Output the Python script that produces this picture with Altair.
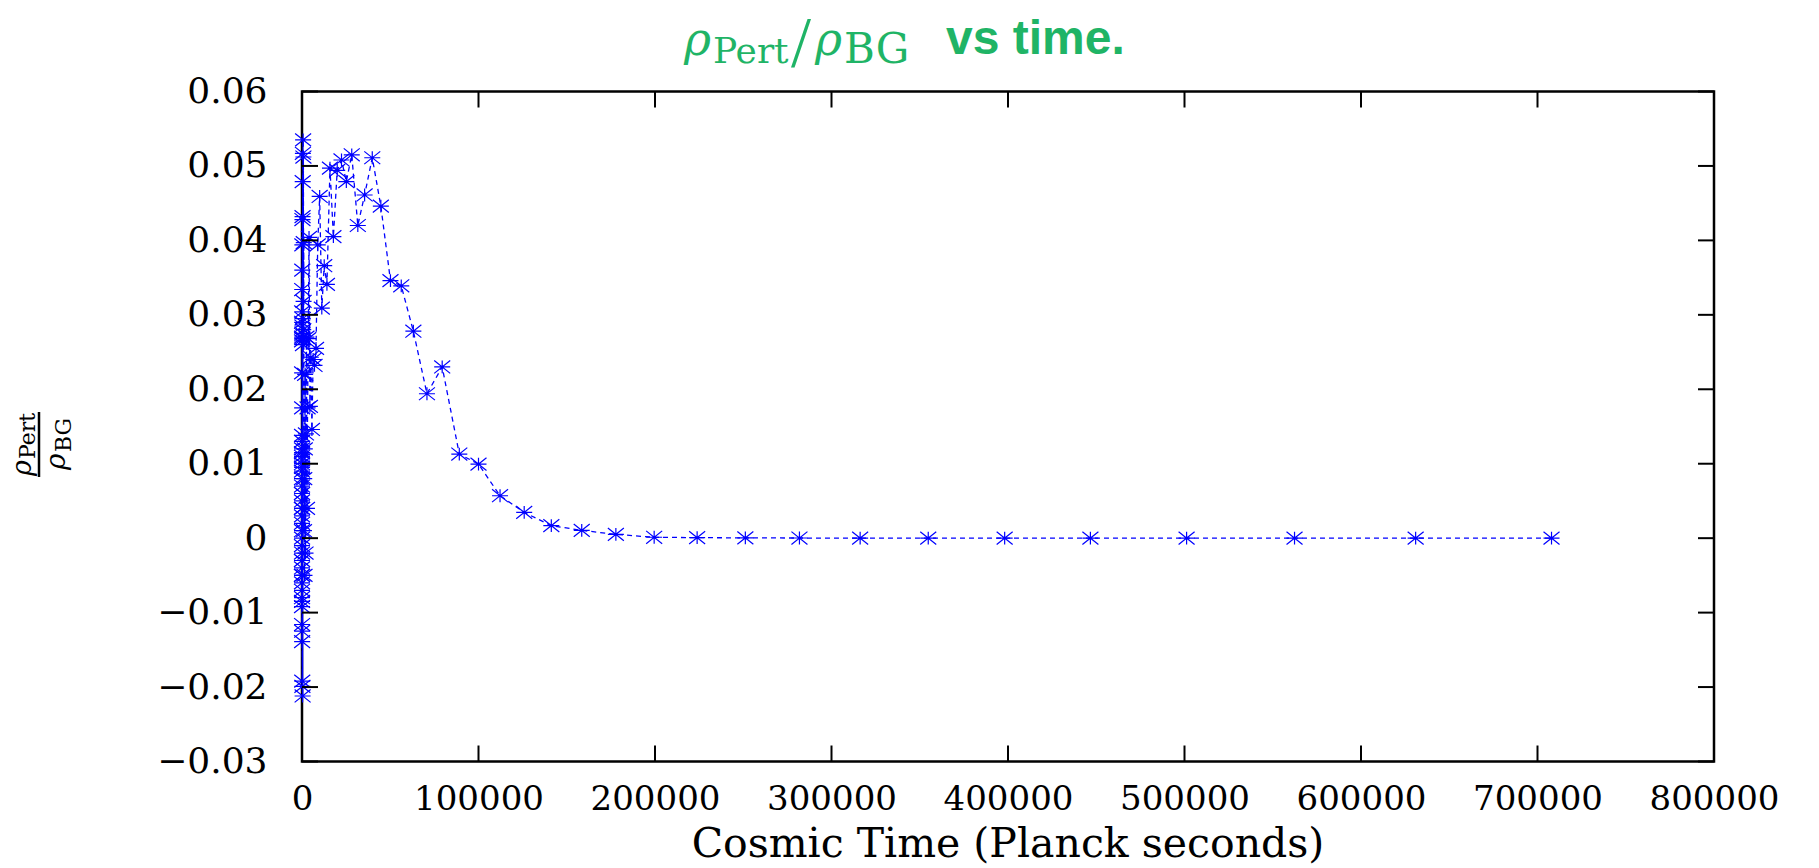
import altair as alt
import pandas as pd

# ---------------- data ----------------
times = [
    1, 1.122, 1.259, 1.413, 1.585, 1.778, 1.995, 2.239, 2.512, 2.818,
    3.162, 3.548, 3.981, 4.467, 5.012, 5.623, 6.310, 7.079, 7.943, 8.913,
    10, 11.22, 12.59, 14.13, 15.85, 17.78, 19.95, 22.39, 25.12, 28.18,
    31.62, 35.48, 39.81, 44.67, 50.12, 56.23, 63.10, 70.79, 79.43, 89.13,
    100, 112.2, 125.9, 141.3, 158.5, 177.8, 199.5, 223.9, 251.2, 281.8,
    316.2, 354.8, 398.1, 446.7, 501.2, 562.3, 631.0, 707.9, 794.3, 891.3,
    1000, 1122, 1259, 1413, 1585, 1778, 1995, 2239, 2512, 2818,
    3162, 3548, 3981, 4467, 5012, 5623, 6310, 7079, 7943, 8913,
    10000, 11220, 12589, 14125, 15849, 17783, 19953, 22387, 25119, 28184,
    31623, 35481, 39811, 44668, 50119, 56234, 63096, 70795, 79433, 89125,
    100000, 112202, 125893, 141254, 158489, 177828, 199526, 223872, 251189, 281838,
    316228, 354813, 398107, 446684, 501187, 562341, 630957, 707946,
]
ratio = [
    0.002, -0.001, 0.004, -0.003, 0.006, -0.002, 0.008, -0.004, 0.005, 0.010,
    -0.005, 0.007, 0.001, 0.011, -0.006, 0.003, 0.009, -0.007, 0.012, -0.003,
    0.004, 0.013, -0.008, 0.006, 0.0115, -0.005, 0.0095, -0.0085, 0.0105, 0.000,
    -0.0092, 0.0138, 0.0270, -0.0116, 0.0265, 0.0222, -0.0139, 0.0290, 0.0175, 0.0304,
    -0.0125, 0.0334, 0.0268, -0.0192, 0.0360, 0.0285, 0.0394, -0.0199, 0.0428, 0.0275,
    0.0432, -0.0212, 0.0479, 0.0295, 0.0517, 0.0260, 0.0535, 0.0280, 0.0512, 0.0318,
    0.0397,
    0.0010, 0.0080, -0.0050, 0.0120, 0.0220, -0.0020, 0.0140, 0.0270, 0.0040, 0.0175,
    0.0268, 0.0404, 0.0177, 0.0243, 0.0146, 0.0240, 0.0232, 0.0255,
    0.0394, 0.0459, 0.0309, 0.0366, 0.0341, 0.0497, 0.0405, 0.0494, 0.0508, 0.0479,
    0.0515, 0.0420, 0.0461, 0.0511, 0.0446, 0.0346, 0.0339, 0.0278, 0.0194, 0.0230,
    0.0113, 0.00995, 0.0057, 0.00346, 0.00168, 0.00105, 0.00051,
    0.00012, 0.00007, 0.00004, 0.00002, 0.00001, 0.0, 0.0, 0.0, 0.0, 0.0, 0.0, 0.0,
]
x_ticks = [0, 100000, 200000, 300000, 400000, 500000, 600000, 700000, 800000]
y_ticks = [-0.03, -0.02, -0.01, 0.0, 0.01, 0.02, 0.03, 0.04, 0.05, 0.06]

df = pd.DataFrame({"t": times, "v": ratio})
xt_df = pd.DataFrame({"xt": x_ticks})
yt_df = pd.DataFrame({"yt": y_ticks})
one = pd.DataFrame({"a": [0]})

W, H = 1412, 670
LEFT, TOP = 302, 91.5
GREEN = "#1fb466"
SERIF = "DejaVu Serif"

xs = alt.Scale(domain=[0, 800000], nice=False, zero=False)
ys = alt.Scale(domain=[-0.03, 0.06], nice=False, zero=False)

STAR = "M-1,0L1,0M0,-0.8L0,0.8M-1,-0.8L1,0.8M-1,0.8L1,-0.8"

x_axis = alt.Axis(values=x_ticks, format="d", labelFont=SERIF, labelFontSize=34,
                  labelColor="black", labelPadding=21, labelFlush=False,
                  domain=False, ticks=False, grid=False, title=None)
y_axis = alt.Axis(values=y_ticks,
                  labelExpr="datum.value == 0 ? '0' : format(datum.value, '.2f')",
                  labelFont=SERIF, labelFontSize=36, labelColor="black",
                  labelPadding=35, labelFlush=False,
                  domain=False, ticks=False, grid=False, title=None)

line = alt.Chart(df).mark_line(color="#0000ff", strokeDash=[5, 4], strokeWidth=1.3).encode(
    x=alt.X("t:Q", scale=xs, axis=x_axis),
    y=alt.Y("v:Q", scale=ys, axis=y_axis),
)
pts = alt.Chart(df).mark_point(shape=STAR, size=256, strokeWidth=1.2, color="#0000ff",
                               filled=False, opacity=1).encode(
    x=alt.X("t:Q", scale=xs),
    y=alt.Y("v:Q", scale=ys),
)

TL = 16
tick_style = dict(color="black", strokeWidth=2)
left_ticks = alt.Chart(yt_df).mark_rule(**tick_style).encode(
    y=alt.Y("yt:Q", scale=ys), x=alt.value(0), x2=alt.value(TL))
right_ticks = alt.Chart(yt_df).mark_rule(**tick_style).encode(
    y=alt.Y("yt:Q", scale=ys), x=alt.value(W - TL), x2=alt.value(W))
bottom_ticks = alt.Chart(xt_df).mark_rule(**tick_style).encode(
    x=alt.X("xt:Q", scale=xs), y=alt.value(H - TL), y2=alt.value(H))
top_ticks = alt.Chart(xt_df).mark_rule(**tick_style).encode(
    x=alt.X("xt:Q", scale=xs), y=alt.value(0), y2=alt.value(TL))


def txt(s, x, y, size, font=SERIF, color=GREEN, style="normal", weight="normal",
        angle=0, align="left"):
    return alt.Chart(one).mark_text(
        font=font, fontSize=size, fontStyle=style, fontWeight=weight, color=color,
        angle=angle, align=align, baseline="alphabetic",
    ).encode(text=alt.value(s), x=alt.value(x), y=alt.value(y))


# title: rho_Pert / rho_BG vs time.
title_layers = [
    txt("ρ", 684 - LEFT, 55 - TOP, 46, style="italic"),
    txt("Pert", 713 - LEFT, 63 - TOP, 36),
    txt("/", 791 - LEFT, 66 - TOP, 72, font="Liberation Serif"),
    txt("ρ", 815 - LEFT, 55 - TOP, 46, style="italic"),
    txt("BG", 844 - LEFT, 63 - TOP, 42),
    txt("vs time.", 946 - LEFT, 54 - TOP, 48, font="Liberation Sans", weight="bold"),
]

# y axis label: fraction rho_Pert over rho_BG, rotated
ylab_layers = [
    txt("ρ", 31 - LEFT, 476 - TOP, 27, color="black", style="italic", angle=270),
    txt("Pert", 35 - LEFT, 459 - TOP, 22, color="black", angle=270),
    txt("ρ", 65 - LEFT, 470 - TOP, 28, color="black", style="italic", angle=270),
    txt("BG", 71 - LEFT, 452 - TOP, 22, color="black", angle=270),
    alt.Chart(one).mark_rule(color="black", strokeWidth=2.5).encode(
        x=alt.value(39 - LEFT), y=alt.value(412 - TOP), y2=alt.value(477 - TOP)),
]

xtitle = txt("Cosmic Time (Planck seconds)", W / 2, 857 - TOP, 41, color="black",
             align="center")

chart = alt.layer(
    line, pts, left_ticks, right_ticks, bottom_ticks, top_ticks,
    *title_layers, *ylab_layers, xtitle,
).properties(
    width=W, height=H,
    autosize=alt.AutoSizeParams(type="none"),
    padding={"left": LEFT - 8, "top": TOP - 8, "right": 74, "bottom": 108},
    background="white",
).configure_view(stroke="black", strokeWidth=2.5)

chart.save("out.html", embed_options={"renderer": "svg", "actions": False})
